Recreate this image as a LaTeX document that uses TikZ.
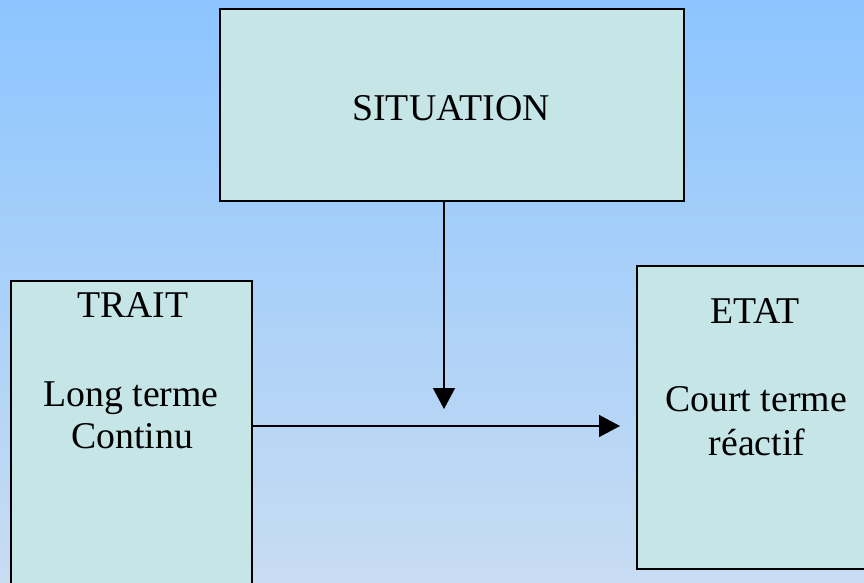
\documentclass[tikz,border=0pt]{standalone}
\usepackage{fontspec}
\setmainfont{Liberation Serif}
\usetikzlibrary{arrows.meta}

\definecolor{skytop}{RGB}{140,197,255}
\definecolor{skybot}{RGB}{200,220,242}
\definecolor{boxfill}{RGB}{197,229,231}

\tikzset{
    bloc/.style={draw=black, fill=boxfill, line width=2pt, inner sep=0pt, outer sep=0pt},
    mot/.style={anchor=base, inner sep=0pt, font=\fontsize{37.8}{42}\selectfont},
    fleche/.style={-{Triangle[width=22pt,length=21pt]}, line width=1.5pt}
}

\begin{document}
\begin{tikzpicture}[x=1pt,y=-1pt]
        \useasboundingbox (0,0) rectangle (864,582);
        \clip (0,0) rectangle (864,582);
        \shade[top color=skytop, bottom color=skybot] (0,0) rectangle (864,582);
        
        \node[bloc, minimum width=464pt, minimum height=192pt] (situation) at (452,105) {};
        \node[bloc, minimum width=241pt, minimum height=319pt] (trait) at (131.5,440.5) {};
        \node[bloc, minimum width=243pt, minimum height=303pt] (etat) at (758.5,417.5) {};
        
        \node[mot] (tsit) at (451,120) {SITUATION};
        \node[mot] (ttrait) at (133,317) {TRAIT};
        \node[mot] (tlong) at (131,406) {Long terme};
        \node[mot] (tcont) at (132,448) {Continu};
        \node[mot] (tetat) at (755,323) {ETAT};
        \node[mot] (tcourt) at (756,411) {Court terme};
        \node[mot] (treac) at (757,455) {réactif};
        
        \coordinate (vend) at (444,409);
        \coordinate (hend) at (620,426);
        
        \draw[fleche] (situation.south -| vend) -- (vend);
        \draw[fleche] (trait.east |- hend) -- (hend);
        
    \end{tikzpicture}
\end{document}
